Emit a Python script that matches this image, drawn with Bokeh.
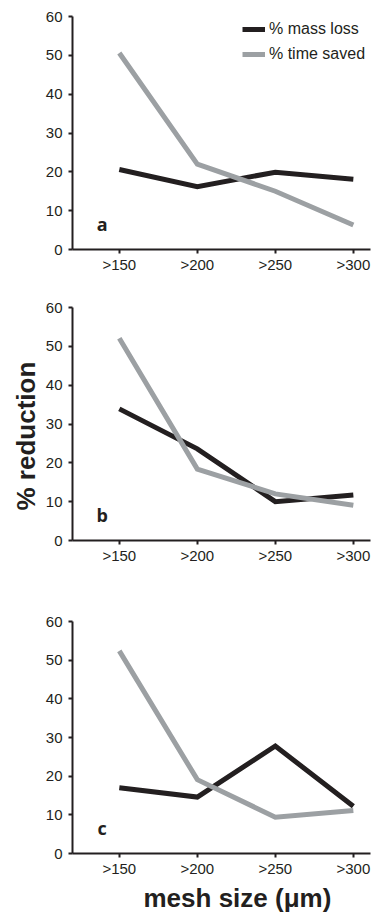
from bokeh.plotting import figure
from bokeh.layouts import column
from bokeh.models import Range1d, FixedTicker, Label, Legend, LegendItem, Title
from bokeh.embed import file_html
from bokeh.resources import INLINE

categories = [">150", ">200", ">250", ">300"]
y_ticks = [0, 10, 20, 30, 40, 50, 60]
panel_letters = ["a", "b", "c"]

mass_loss_a = [20.6, 16.2, 19.9, 18.1]
time_saved_a = [50.6, 22.0, 15.0, 6.3]
mass_loss_b = [33.9, 23.6, 10.0, 11.7]
time_saved_b = [52.1, 18.4, 12.0, 9.1]
mass_loss_c = [17.0, 14.6, 27.8, 12.2]
time_saved_c = [52.4, 19.1, 9.4, 11.1]

series_names = ["% mass loss", "% time saved"]
ylabel = "% reduction"
xlabel = "mesh size (μm)"

BLACK = "#231f20"
GREY = "#9ca0a3"
TICK_FONT = "Liberation Sans"

xs = list(range(len(categories)))


def make_panel(mass, time, letter, height, top, bottom, legend=False):
    p = figure(width=376, height=height, output_backend="svg", toolbar_location=None,
               x_range=Range1d(-0.6, 3.22), y_range=Range1d(0, 60),
               min_border_left=72, min_border_right=6,
               min_border_top=top, min_border_bottom=bottom)
    p.outline_line_color = None
    p.grid.visible = False
    p.background_fill_color = "white"
    p.border_fill_color = "white"

    r1 = p.line(xs, mass, line_color=BLACK, line_width=5, line_join="miter")
    r2 = p.line(xs, time, line_color=GREY, line_width=5, line_join="miter")

    p.xaxis.ticker = FixedTicker(ticks=xs)
    p.xaxis.major_label_overrides = {i: c for i, c in enumerate(categories)}
    p.yaxis.ticker = FixedTicker(ticks=y_ticks)
    for ax in (p.xaxis, p.yaxis):
        ax.axis_line_color = BLACK
        ax.axis_line_width = 2
        ax.major_tick_line_color = BLACK
        ax.major_tick_line_width = 2
        ax.major_tick_in = 0
        ax.major_tick_out = 4
        ax.minor_tick_line_color = None
        ax.major_label_text_font = TICK_FONT
        ax.major_label_text_font_size = "15px"
        ax.major_label_text_color = BLACK
    p.xaxis.major_label_standoff = 2
    p.yaxis.major_label_standoff = 6

    p.add_layout(Label(x=-0.22, y=6.5, text=letter, text_font="Open Sans",
                       text_font_style="bold", text_font_size="18px", text_color=BLACK,
                       text_align="center", text_baseline="middle"))

    if legend:
        lg = Legend(items=[LegendItem(label=series_names[0], renderers=[r1]),
                           LegendItem(label=series_names[1], renderers=[r2])],
                    location=(170, 185))
        lg.border_line_color = None
        lg.background_fill_alpha = 0
        lg.padding = 2
        lg.spacing = 5
        lg.glyph_width = 23
        lg.glyph_height = 20
        lg.label_standoff = 4
        lg.label_text_font = TICK_FONT
        lg.label_text_font_size = "16px"
        lg.label_text_color = BLACK
        p.add_layout(lg)
    return p


pa = make_panel(mass_loss_a, time_saved_a, panel_letters[0], 291, 16, 42, legend=True)
pb = make_panel(mass_loss_b, time_saved_b, panel_letters[1], 313, 16, 64)
pc = make_panel(mass_loss_c, time_saved_c, panel_letters[2], 309, 17, 59)

pb.add_layout(Title(text=ylabel, align="left", offset=30,
                    text_font=TICK_FONT, text_font_style="bold",
                    text_font_size="26px", text_color=BLACK, standoff=4), "left")
pc.add_layout(Title(text=xlabel, align="left", offset=71,
                    text_font=TICK_FONT, text_font_style="bold",
                    text_font_size="26px", text_color=BLACK, standoff=2), "below")

layout = column(pa, pb, pc, spacing=0)
open("out.html", "w").write(file_html(layout, INLINE))
